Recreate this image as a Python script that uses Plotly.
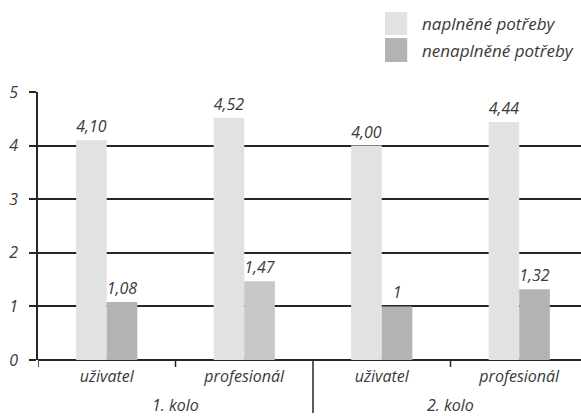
import plotly.graph_objects as go

# Survey results: mean scores of fulfilled vs. unfulfilled needs
categories = ["uživatel", "profesionál", "uživatel", "profesionál"]
rounds = ["1. kolo", "2. kolo"]
series_names = ["naplněné potřeby", "nenaplněné potřeby"]
fulfilled = [4.10, 4.52, 4.00, 4.44]
unfulfilled = [1.08, 1.47, 1.00, 1.32]
y_ticks = [0, 1, 2, 3, 4, 5]

LIGHT = "#e1e2e2"
DARK = "#b3b3b3"
DARK_ALT = "#c7c7c7"
LINE = "#262626"
TEXT = "#3a3a3a"
FONT = "Open Sans"
SIZE = 16

x_pos = list(range(len(categories)))

fig = go.Figure()
fig.add_trace(go.Bar(
    x=x_pos, y=fulfilled, name=series_names[0],
    marker=dict(color=LIGHT, line=dict(width=0)),
    texttemplate="%{y:.2f}", textposition="outside",
    outsidetextfont=dict(family=FONT, size=SIZE, color=TEXT, style="italic"),
    cliponaxis=False,
))
fig.add_trace(go.Bar(
    x=x_pos, y=unfulfilled, name=series_names[1],
    marker=dict(color=[DARK, DARK_ALT, DARK, DARK], line=dict(width=0)),
    texttemplate="%{y}", textposition="outside",
    outsidetextfont=dict(family=FONT, size=SIZE, color=TEXT, style="italic"),
    cliponaxis=False,
))

shapes = []
# y-axis line extension below zero
shapes.append(dict(type="line", xref="x", yref="paper", x0=-0.5, x1=-0.5,
                   y0=0, y1=-0.026, line=dict(color=LINE, width=1.5)))
# short ticks between categories inside each round
for xv in (0.5, 2.5):
    shapes.append(dict(type="line", xref="x", yref="paper", x0=xv, x1=xv,
                       y0=0, y1=-0.026, line=dict(color=LINE, width=1.5)))
# long divider between rounds
shapes.append(dict(type="line", xref="x", yref="paper", x0=1.5, x1=1.5,
                   y0=0, y1=-0.198, line=dict(color=LINE, width=1.5)))

# legend swatches
legend_colors = [LIGHT, DARK]
legend_y = [(1.299, 1.213), (1.201, 1.112)]
for col, (ya, yb) in zip(legend_colors, legend_y):
    shapes.append(dict(type="rect", xref="paper", yref="paper",
                       x0=0.639, x1=0.680, y0=yb, y1=ya,
                       fillcolor=col, line=dict(width=0)))

annotations = []
for name, (ya, yb) in zip(series_names, legend_y):
    annotations.append(dict(xref="paper", yref="paper", x=0.7035, y=(ya + yb) / 2,
                            xanchor="left", yanchor="middle", text=name,
                            showarrow=False,
                            font=dict(family=FONT, size=17, color=TEXT, style="italic")))
for i, r in enumerate(rounds):
    annotations.append(dict(xref="x", yref="paper", x=0.5 + 2 * i, y=-0.168,
                            xanchor="center", yanchor="middle", text=r,
                            showarrow=False,
                            font=dict(family=FONT, size=SIZE, color=TEXT, style="italic")))

fig.update_layout(
    width=581, height=416,
    margin=dict(l=38, r=0, t=92, b=56),
    paper_bgcolor="white", plot_bgcolor="white",
    barmode="group", bargap=0.555, bargroupgap=0,
    showlegend=False,
    separators=", ",
    shapes=shapes, annotations=annotations,
    xaxis=dict(
        range=[-0.5, 3.449], tickvals=x_pos, ticktext=categories,
        ticks="", showgrid=False, zeroline=False, showline=False,
        tickfont=dict(family=FONT, size=SIZE, color=TEXT, style="italic"),
        ticklabelstandoff=5,
    ),
    yaxis=dict(
        range=[0, 5], tickvals=y_ticks, ticks="outside", ticklen=7,
        tickwidth=1.5, tickcolor=LINE,
        showgrid=True, gridcolor=LINE, gridwidth=1.5,
        zeroline=True, zerolinecolor=LINE, zerolinewidth=1.5,
        showline=True, linecolor=LINE, linewidth=1.5,
        tickfont=dict(family=FONT, size=SIZE, color=TEXT, style="italic"),
        ticklabelstandoff=8,
    ),
)

fig.write_html("out.html")
